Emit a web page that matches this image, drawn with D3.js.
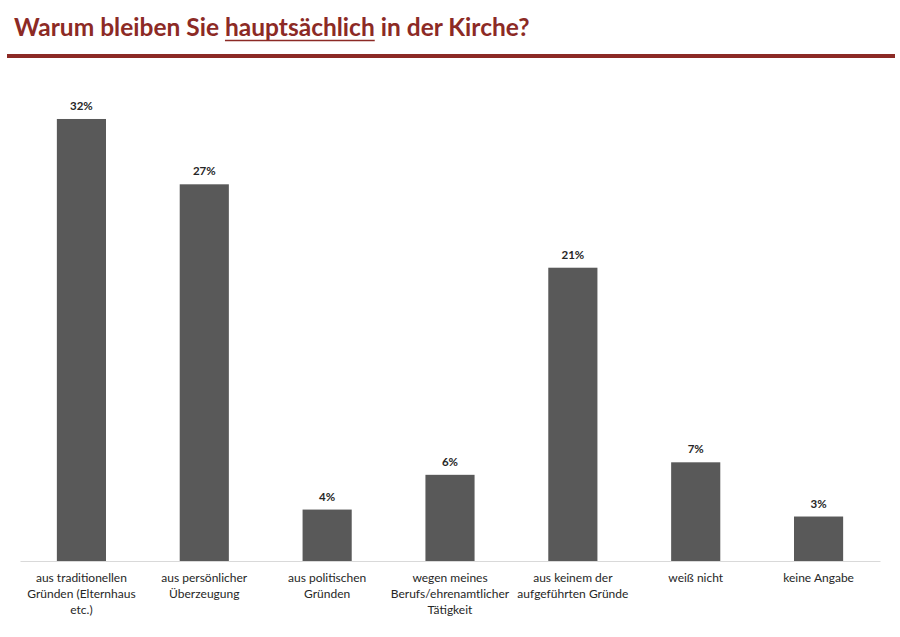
<!DOCTYPE html>
<html><head><meta charset="utf-8">
<script src="https://cdn.jsdelivr.net/npm/d3@7"></script>
<style>
html,body{margin:0;padding:0;background:#fff;}
svg{display:block;}
</style></head>
<body>
<svg id="chart" width="900" height="637"></svg>
<script>
const categories = [
  ["aus traditionellen","Gründen (Elternhaus","etc.)"],
  ["aus persönlicher","Überzeugung"],
  ["aus politischen","Gründen"],
  ["wegen meines","Berufs/ehrenamtlicher","Tätigkeit"],
  ["aus keinem der","aufgeführten Gründe"],
  ["weiß nicht"],
  ["keine Angabe"]
];
const values = [31.8, 27.1, 3.7, 6.2, 21.1, 7.1, 3.2];
const valueLabels = ["32%","27%","4%","6%","21%","7%","3%"];

const svg = d3.select("#chart");
const font = "Lato, 'Open Sans', sans-serif";
const red = "#8c2a25";

// Title
const title = svg.append("text")
  .attr("x", 14).attr("y", 36)
  .attr("font-family", font).attr("font-weight", 700)
  .attr("font-size", 25).attr("fill", red);
title.append("tspan").text("Warum bleiben Sie ");
const hs = title.append("tspan").text("hauptsächlich");
title.append("tspan").text(" in der Kirche?");
// fit title width
const targetW = 516;
let w = title.node().getComputedTextLength();
title.attr("font-size", 25 * targetW / w);
// underline
const hx0 = title.node().getStartPositionOfChar(18).x;
const hx1 = title.node().getEndPositionOfChar(30).x;
svg.append("line").attr("x1", hx0).attr("x2", hx1).attr("y1", 40.5).attr("y2", 40.5)
  .attr("stroke", red).attr("stroke-width", 1.6);

// Rule
svg.append("rect").attr("x", 7).attr("y", 54).attr("width", 888).attr("height", 4).attr("fill", red);

// Scales
const x = d3.scaleBand().domain(d3.range(categories.length)).range([20, 880]).paddingInner(0.6).paddingOuter(0.3);
const y = d3.scaleLinear().domain([0, 35]).range([561, 561 - 35 * 13.9]);

// Axis line
const axis = svg.append("g").attr("transform", "translate(0,561)")
  .call(d3.axisBottom(x).tickSize(0).tickFormat(""));
axis.select(".domain").attr("stroke", "#d9d9d9").attr("stroke-width", 1);

// Bars
svg.selectAll("rect.bar").data(values).enter().append("rect")
  .attr("class", "bar")
  .attr("x", (d, i) => x(i))
  .attr("width", x.bandwidth())
  .attr("y", d => y(d))
  .attr("height", d => y(0) - y(d))
  .attr("fill", "#595959");

// Value labels
svg.selectAll("text.val").data(values).enter().append("text")
  .attr("class", "val")
  .attr("x", (d, i) => x(i) + x.bandwidth() / 2)
  .attr("y", d => y(d) - 9)
  .attr("text-anchor", "middle")
  .attr("font-family", font).attr("font-weight", 700).attr("font-size", 11.5)
  .attr("fill", "#262626")
  .text((d, i) => valueLabels[i]);

// Category labels
const cl = svg.selectAll("text.cat").data(categories).enter().append("text")
  .attr("class", "cat")
  .attr("text-anchor", "middle")
  .attr("font-family", font).attr("font-size", 12)
  .attr("fill", "#262626");
cl.each(function(lines, i) {
  const t = d3.select(this);
  lines.forEach((ln, j) => {
    t.append("tspan").attr("x", x(i) + x.bandwidth() / 2).attr("y", 582 + j * 16).text(ln);
  });
});
</script>
</body></html>
